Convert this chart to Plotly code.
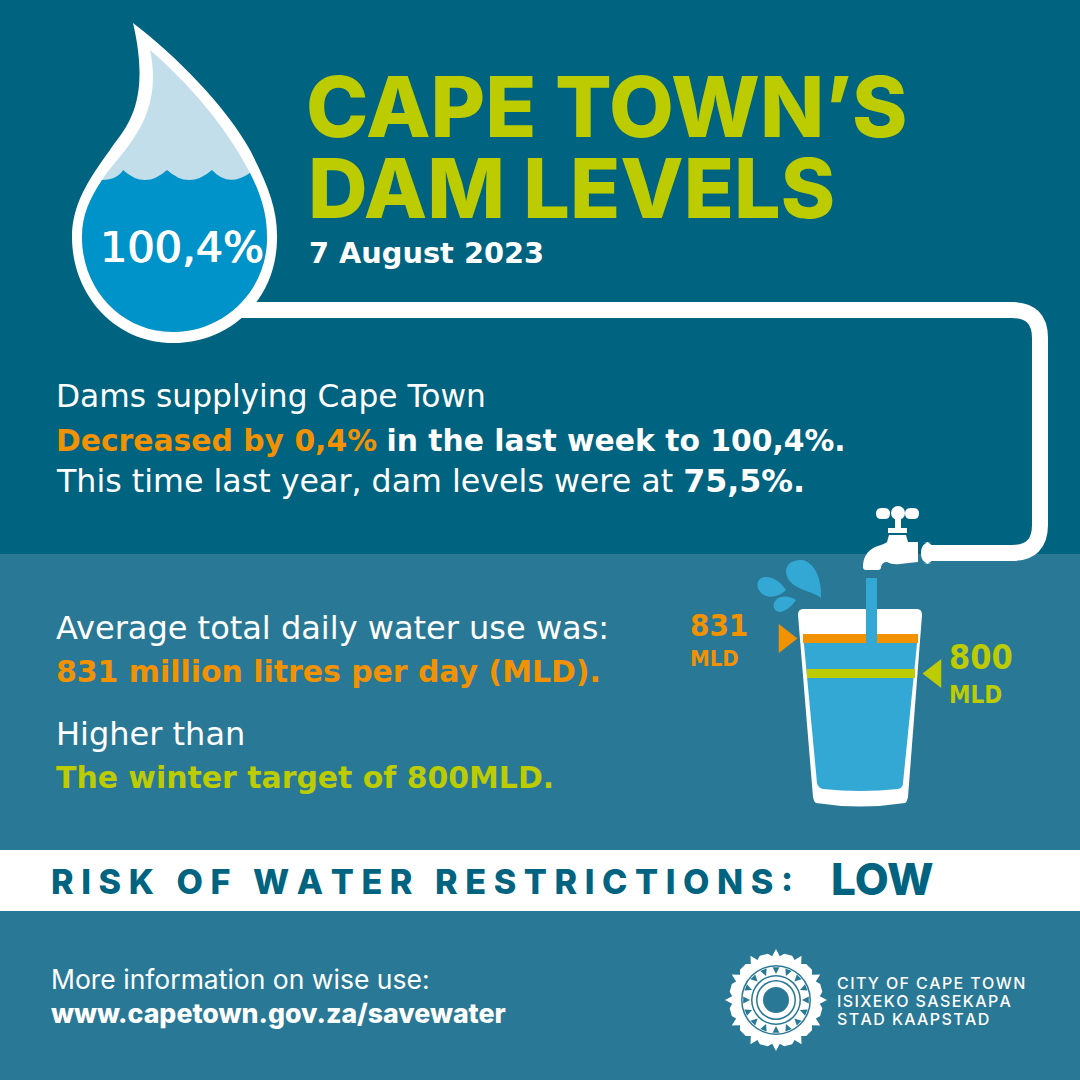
import numpy as np
import plotly.graph_objects as go

# values
dam_level = ["100,4%"]
level_change = ["0,4%"]
last_year = ["75,5%"]
use_labels = ["831", "800"]
use_values = [831, 800]
use_colours = ["#F39200", "#BDCC00"]
bar_x = [[803, 918], [807, 915]]

DARK = "#00637F"
MID = "#297996"
BLUE = "#0093C9"
PALE = "#C3DEEB"
WATER = "#33A8D4"
WHITE = "#FFFFFF"
GREEN = "#BDCC00"
ORANGE = "#F39200"

fig = go.Figure()
shapes = []


def add_rect(x0, y0, x1, y1, colour):
    shapes.append(dict(type="rect", x0=x0, y0=y0, x1=x1, y1=y1, fillcolor=colour,
                       line_width=0, layer="below"))


def add_path(path, colour):
    shapes.append(dict(type="path", path=path, fillcolor=colour, line_width=0, layer="below"))


def add_circle(cx, cy, r, colour):
    shapes.append(dict(type="circle", x0=cx - r, y0=cy - r, x1=cx + r, y1=cy + r,
                       fillcolor=colour, line_width=0, layer="below"))


def add_pill(x0, y0, x1, y1, colour):
    r = (y1 - y0) / 2
    add_path(f"M{x0 + r},{y0} H{x1 - r} Q{x1},{y0} {x1},{y0 + r} Q{x1},{y1} {x1 - r},{y1} "
             f"H{x0 + r} Q{x0},{y1} {x0},{y0 + r} Q{x0},{y0} {x0 + r},{y0} Z", colour)


def add_text(x, y, text, size, colour, family="DejaVu Sans", weight=None, shadow=None):
    font = dict(size=size, color=colour, family=family)
    if weight:
        font["weight"] = weight
    if shadow:
        font["shadow"] = shadow
    fig.add_annotation(x=x, y=y, text=text, showarrow=False, xanchor="left", yanchor="middle",
                       font=font, xref="x", yref="y", align="left")


def spaced(text, gap):
    return gap.join(text)


# background panels
add_rect(0, 0, 1080, 554, DARK)
add_rect(0, 554, 1080, 1080, MID)
add_rect(0, 850, 1080, 911, WHITE)

# pipe
shapes.append(dict(type="path", path="M240,310 H1012 Q1040,310 1040,338 V525 Q1040,553 1012,553 H925",
                   line=dict(color=WHITE, width=16), layer="below"))
add_pill(921, 542, 934, 564, WHITE)

# drop
add_path("M133,23 C175,55 225,105 250,150 C268,185 278,210 277,240 C276,300 230,343 173,343 "
         "C115,343 72,295 72,237 C72,205 88,180 110,150 C125,128 152,105 133,23 Z", WHITE)
add_path("M150,50 C190,85 225,125 250,173 C262,197 267,215 267,238 C267,290 225,332 173,332 "
         "C122,332 82,290 82,237 C82,215 90,198 102,180 C120,152 165,120 150,50 Z", PALE)
add_path("M102,180 C112,180 120,176 123,170 Q145,190 167,170 Q189,190 212,170 Q228,188 250,173 "
         "C262,197 267,215 267,238 C267,290 225,332 173,332 C122,332 82,290 82,237 "
         "C82,215 90,198 102,180 Z", BLUE)

# tap
add_rect(895, 519, 901, 529, WHITE)
add_rect(888, 528, 907, 533, WHITE)
add_pill(876, 508, 890, 519, WHITE)
add_pill(905, 508, 919, 519, WHITE)
add_circle(898, 513, 7, WHITE)
add_path("M889,535 H906 L908,542 H918 V562 Q908,563 900,564 Q892,565 887,562 Q882,562 881,567 "
         "Q881,570 878,570 H866 Q863,570 863,567 Q863,553 875,547 Q885,544 887,542 Z", WHITE)

# splash
add_path("M821,598 C812,590 788,590 786,572 C786,562 795,560 802,560 C815,562 822,580 821,598 Z", WATER)
add_path("M786,590 C778,598 768,598 762,594 C755,588 756,577 766,577 C775,577 782,584 786,590 Z", WATER)
add_path("M796,600 C792,606 785,612 779,612 C773,611 772,604 776,600 C781,595 790,596 796,600 Z", WATER)

# glass
add_path("M803,609 H917 Q922,609 922,615 L908,797 Q907,802 905,803 Q860,810 816,803 "
         "Q814,802 813,797 L798,615 Q798,609 803,609 Z", WHITE)
add_path("M803,634 H918 L903,783 Q903,788 898,789 Q860,793 823,789 Q818,788 817,783 Z", WATER)
shapes.append(dict(type="rect", x0=866, y0=578, x1=877, y1=643, fillcolor=WATER, line_width=0, layer="above"))

# logo
cx, cy = 776, 1000
pts = []
for a in np.arange(0, 360, 30):
    for da, r in [(0, 51), (5, 44), (10, 47), (20, 47), (25, 44)]:
        t = np.radians(a + da)
        pts.append(f"{cx + r * np.cos(t):.1f},{cy + r * np.sin(t):.1f}")
add_path("M" + " L".join(pts) + " Z", WHITE)
add_circle(cx, cy, 35, MID)
add_circle(cx, cy, 33.5, WHITE)
for a in np.arange(0, 360, 22.5):
    t0, t1 = np.radians(a - 6), np.radians(a + 6)
    t = np.radians(a)
    add_path(f"M{cx + 33 * np.cos(t0):.1f},{cy + 33 * np.sin(t0):.1f} "
             f"L{cx + 33 * np.cos(t1):.1f},{cy + 33 * np.sin(t1):.1f} "
             f"L{cx + 26 * np.cos(t):.1f},{cy + 26 * np.sin(t):.1f} Z", MID)
add_circle(cx, cy, 25, MID)
add_circle(cx, cy, 23.5, WHITE)
add_circle(cx, cy, 20, MID)
add_circle(cx, cy, 18.5, WHITE)
add_circle(cx, cy, 13, MID)

# text
add_text(304, 106, "CAPE TOWN’S", 84, GREEN, "Inter", 800)
add_text(306, 188, "DAM LEVELS", 82.5, GREEN, "Inter", 800)
add_text(307, 253, "<b>7 August 2023</b>", 28.8, WHITE)
add_text(98, 247, dam_level[0], 43, WHITE, shadow="0.6px 0 0 #fff, -0.6px 0 0 #fff")

add_text(54, 396, "Dams supplying Cape Town", 31.3, WHITE)
add_text(54, 440, f"<span style='color:{ORANGE}'><b>Decreased by {level_change[0]}</b></span>"
         " <b>in the last week to 100,4%.</b>", 29.8, WHITE)
add_text(54, 481, f"This time last year, dam levels were at <b>{last_year[0]}.</b>", 31.7, WHITE)

add_text(54, 628, "Average total daily water use was:", 32, WHITE)
add_text(54, 671, "<b>831 million litres per day (MLD).</b>", 29.9, ORANGE)
add_text(54, 734, "Higher than", 32, WHITE)
add_text(54, 777, "<b>The winter target of 800MLD.</b>", 29.9, GREEN)

add_text(688, 625, f"<b>{use_labels[0]}</b>", 31, ORANGE, "DejaVu Sans Condensed")
add_text(688, 658, "<b>MLD</b>", 22, ORANGE, "DejaVu Sans Condensed")
add_text(947, 657, f"<b>{use_labels[1]}</b>", 34, GREEN, "DejaVu Sans Condensed")
add_text(947, 695, "<b>MLD</b>", 24, GREEN, "DejaVu Sans Condensed")

add_text(49, 881, spaced("RISK OF WATER RESTRICTIONS:", "\u2009\u200a"), 34.2, DARK, "Inter", 800)
add_text(829, 879, "LOW", 44, DARK, "Inter", 800)

add_text(49, 979, "More information on wise use:", 26.5, WHITE, "Inter")
add_text(49, 1013, "www.capetown.gov.za/savewater", 26.7, WHITE, "Inter", 800)

add_text(835, 983, spaced("CITY OF CAPE TOWN", "\u200a"), 16, WHITE, "Inter", 500)
add_text(835, 1001, spaced("ISIXEKO SASEKAPA", "\u200a"), 16, WHITE, "Inter", 500)
add_text(835, 1019, spaced("STAD KAAPSTAD", "\u200a"), 16, WHITE, "Inter", 500)

# level bars and pointers sit on a daily-use axis
for value, colour, xs in zip(use_values, use_colours, bar_x):
    fig.add_trace(go.Scatter(x=xs, y=[value, value], mode="lines", yaxis="y2",
                             line=dict(color=colour, width=9), hoverinfo="skip"))
fig.add_trace(go.Scatter(x=[785, 935], y=use_values, mode="markers", yaxis="y2",
                         marker=dict(symbol=["triangle-right", "triangle-left"], size=25,
                                     color=use_colours), hoverinfo="skip"))

fig.update_layout(
    width=1080, height=1080, margin=dict(l=0, r=0, t=0, b=0),
    paper_bgcolor=DARK, plot_bgcolor=DARK, showlegend=False,
    xaxis=dict(range=[0, 1080], visible=False),
    yaxis=dict(range=[1080, 0], visible=False),
    yaxis2=dict(range=[440, 1396.5], visible=False, overlaying="y"),
    shapes=shapes,
)

fig.write_html("out.html", config=dict(displayModeBar=False),
               post_script="document.body.style.margin='0';")
